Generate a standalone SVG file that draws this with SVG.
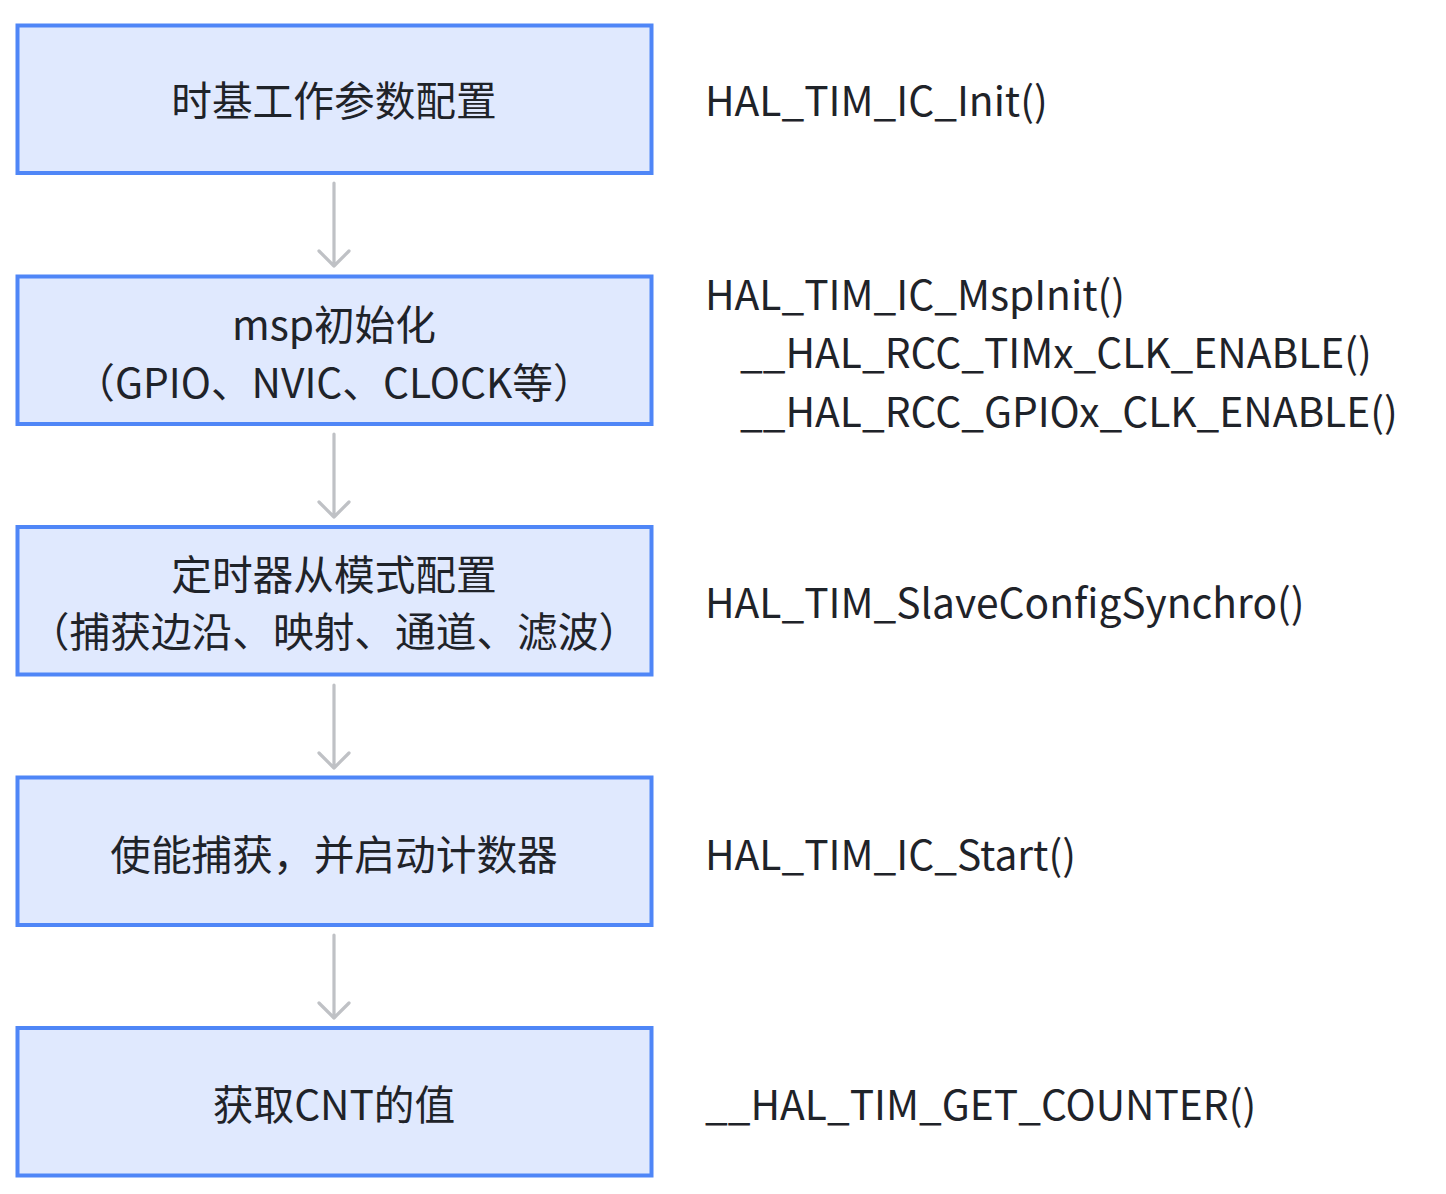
<svg xmlns="http://www.w3.org/2000/svg" width="1446" height="1194" viewBox="0 0 1446 1194">
<style>
.box{fill:#e0e9fe;stroke:#4f86f7;stroke-width:4}
.t{font-family:"Noto Sans CJK SC","Noto Sans",sans-serif;font-size:40.7px;fill:#1f2329}
.c{text-anchor:middle}
.arr{fill:none;stroke:#bfc1c5;stroke-width:3.2;stroke-linecap:round;stroke-linejoin:round}
</style>
<rect width="1446" height="1194" fill="#ffffff"/>
<g id="connectors">
<path class="arr" d="M334 183V266M319 251L334 266L349 251"/>
<path class="arr" d="M334 434V517M319 502L334 517L349 502"/>
<path class="arr" d="M334 685V768M319 753L334 768L349 753"/>
<path class="arr" d="M334 935V1018M319 1003L334 1018L349 1003"/>
</g>
<g id="node1">
<rect class="box" x="17.5" y="25.5" width="634" height="147.5"/>
<text class="t c" x="334" y="116">时基工作参数配置</text>
</g>
<g id="node2">
<rect class="box" x="17.5" y="276.5" width="634" height="147.5"/>
<text class="t c" x="334" y="340">msp初始化</text>
<text class="t c" x="334" y="398">（GPIO、NVIC、CLOCK等）</text>
</g>
<g id="node3">
<rect class="box" x="17.5" y="527" width="634" height="147.5"/>
<text class="t c" x="334" y="590">定时器从模式配置</text>
<text class="t c" x="334" y="647">（捕获边沿、映射、通道、滤波）</text>
</g>
<g id="node4">
<rect class="box" x="17.5" y="777.5" width="634" height="147.5"/>
<text class="t c" x="334" y="870">使能捕获，并启动计数器</text>
</g>
<g id="node5">
<rect class="box" x="17.5" y="1028" width="634" height="147.5"/>
<text class="t c" x="334" y="1120">获取CNT的值</text>
</g>
<g id="labels">
<text class="t" x="705" y="116">HAL_TIM_IC_Init()</text>
<text class="t" x="705" y="310">HAL_TIM_IC_MspInit()</text>
<text class="t" x="740" y="368">__HAL_RCC_TIMx_CLK_ENABLE()</text>
<text class="t" x="740" y="427">__HAL_RCC_GPIOx_CLK_ENABLE()</text>
<text class="t" x="705" y="618">HAL_TIM_SlaveConfigSynchro()</text>
<text class="t" x="705" y="870">HAL_TIM_IC_Start()</text>
<text class="t" x="705" y="1120">__HAL_TIM_GET_COUNTER()</text>
</g>
</svg>
